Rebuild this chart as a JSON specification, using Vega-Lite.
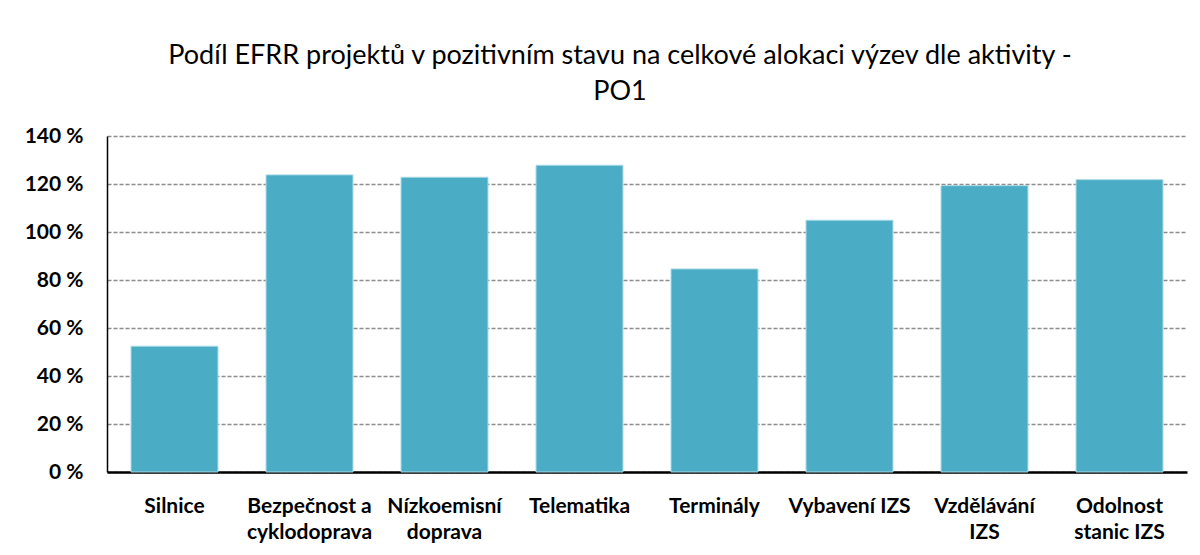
{
  "$schema": "https://vega.github.io/schema/vega-lite/v6.json",
  "width": 1080,
  "height": 336,
  "autosize": {"type": "none"},
  "padding": {"left": 107, "top": 136, "right": 13, "bottom": 83},
  "background": "white",
  "title": {
    "text": ["Podíl EFRR projektů v pozitivním stavu na celkové alokaci výzev dle aktivity -", "PO1"],
    "anchor": "middle",
    "frame": "group",
    "dx": -27,
    "font": "Lato",
    "fontSize": 27,
    "fontWeight": "normal",
    "color": "#000000",
    "lineHeight": 36,
    "offset": 19
  },
  "data": {
    "values": [
      {"aktivita": "Silnice", "podil": 52.4},
      {"aktivita": "Bezpečnost a cyklodoprava", "podil": 123.8},
      {"aktivita": "Nízkoemisní doprava", "podil": 122.8},
      {"aktivita": "Telematika", "podil": 127.8},
      {"aktivita": "Terminály", "podil": 84.6},
      {"aktivita": "Vybavení IZS", "podil": 104.9},
      {"aktivita": "Vzdělávání IZS", "podil": 119.3},
      {"aktivita": "Odolnost stanic IZS", "podil": 121.8}
    ]
  },
  "mark": {"type": "bar", "color": "#4BACC6", "stroke": "#A8D8E4", "strokeWidth": 1},
  "encoding": {
    "x": {
      "field": "aktivita",
      "type": "nominal",
      "sort": null,
      "scale": {"paddingInner": 0.356, "paddingOuter": 0.178},
      "axis": {
        "title": null,
        "labelAngle": 0,
        "labelFont": "Lato",
        "labelFontSize": 21,
        "labelFontWeight": "bold",
        "labelColor": "#000000",
        "labelPadding": 23,
        "labelLineHeight": 26,
        "labelLimit": 200,
        "labelOverlap": false,
        "ticks": false,
        "domainColor": "#000000",
        "domainWidth": 2.5,
        "labelExpr": "datum.label == 'Bezpečnost a cyklodoprava' ? ['Bezpečnost a', 'cyklodoprava'] : datum.label == 'Nízkoemisní doprava' ? ['Nízkoemisní', 'doprava'] : datum.label == 'Vzdělávání IZS' ? ['Vzdělávání', 'IZS'] : datum.label == 'Odolnost stanic IZS' ? ['Odolnost', 'stanic IZS'] : datum.label"
      }
    },
    "y": {
      "field": "podil",
      "type": "quantitative",
      "scale": {"domain": [0, 140], "nice": false},
      "axis": {
        "title": null,
        "values": [0, 20, 40, 60, 80, 100, 120, 140],
        "labelExpr": "datum.value + ' %'",
        "labelFont": "Lato",
        "labelFontSize": 21,
        "labelFontWeight": "bold",
        "labelColor": "#000000",
        "labelPadding": 24,
        "ticks": false,
        "domainColor": "#000000",
        "domainWidth": 1.5,
        "grid": true,
        "gridColor": "#8C8C8C",
        "gridWidth": 1.5,
        "gridDash": [4, 2]
      }
    }
  },
  "config": {
    "view": {"stroke": null}
  }
}
